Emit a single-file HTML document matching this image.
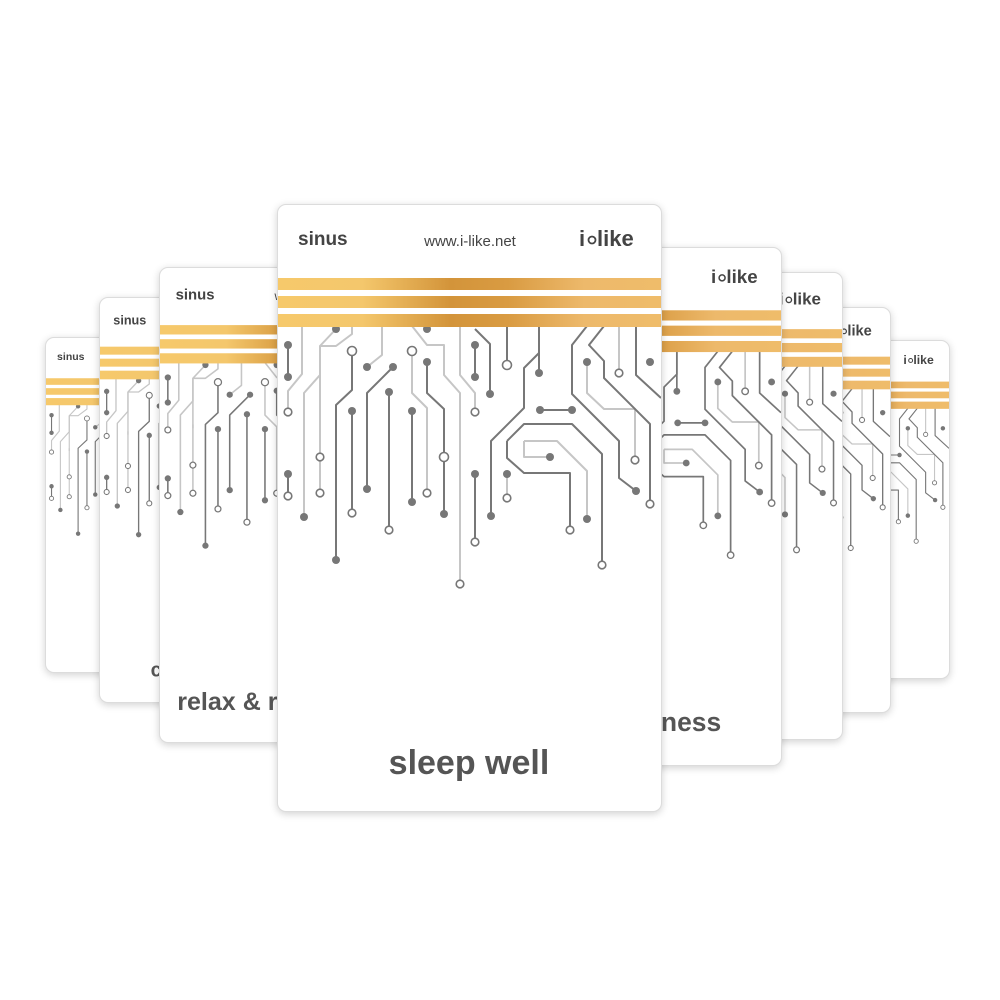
<!DOCTYPE html>
<html><head><meta charset="utf-8"><style>
html,body{margin:0;padding:0;background:#fff;width:1000px;height:1000px;overflow:hidden}
.card{position:absolute;background:#fff;border:1px solid #dcdcdc;border-radius:9px;box-shadow:0 2px 8px rgba(0,0,0,0.18);overflow:hidden}
.card svg{position:absolute;left:0;top:0;width:100%;height:100%}
</style></head><body>
<svg width="0" height="0" style="position:absolute">
<defs>
<linearGradient id="gold" x1="0" x2="1" y1="0" y2="0">
<stop offset="0" stop-color="#f6c96b"/><stop offset="0.22" stop-color="#f4c76c"/>
<stop offset="0.45" stop-color="#d3943a"/><stop offset="0.6" stop-color="#d99b42"/>
<stop offset="0.8" stop-color="#edb96b"/><stop offset="1" stop-color="#efbc6a"/>
</linearGradient>
<symbol id="design" viewBox="0 0 383 606">
<g fill="none" stroke-width="2" stroke-linejoin="round">
<g stroke="#c6c6c6">
<path d="M24 121V169L10 186V207"/>
<path d="M74 121V129L58 141H42V205"/>
<path d="M104 121V150L89 162"/>
<path d="M42 288V200"/>
<path d="M26 312V188L42 170V141"/>
<path d="M134 146V188L149 203V288"/>
<path d="M134 121L149 140H166V170L182 188V379"/>
<path d="M182 121V170L197 188V207"/>
<path d="M229 269V293"/>
<path d="M246 236H279L309 266V314"/>
<path d="M246 236V252H272"/>
<path d="M309 157V188L326 204H357V255"/>
<path d="M341 168V121"/>
<path d="M58 124L42 141"/>
</g>
<g stroke="#777">
<path d="M10 140V172"/>
<path d="M58 355V200L74 185V146"/>
<path d="M115 162L89 188V284"/>
<path d="M111 187V325"/>
<path d="M74 206V308"/>
<path d="M134 206V297"/>
<path d="M149 157V188L166 204V309"/>
<path d="M197 140V172"/>
<path d="M197 124L212 139V189"/>
<path d="M229 160V121"/>
<path d="M197 269V337"/>
<path d="M213 311V236L246 203V163L261 148V121"/>
<path d="M261 168V121"/>
<path d="M262 205H294"/>
<path d="M229 236L246 219H294L324 249V360"/>
<path d="M229 236V253L246 268H292V325"/>
<path d="M309 121L294 140V189L341 236V273L358 286"/>
<path d="M326 121L311 140L326 156V173L372 219V299"/>
<path d="M358 121V170L383 193"/>
<path d="M10 269V291"/>
</g>
</g>
<g fill="#777">
<circle cx="58" cy="124" r="4"/><circle cx="10" cy="140" r="4"/><circle cx="10" cy="172" r="4"/>
<circle cx="26" cy="312" r="4"/><circle cx="58" cy="355" r="4"/><circle cx="89" cy="162" r="4"/>
<circle cx="115" cy="162" r="4"/><circle cx="89" cy="284" r="4"/><circle cx="111" cy="187" r="4"/>
<circle cx="74" cy="206" r="4"/><circle cx="134" cy="206" r="4"/><circle cx="134" cy="297" r="4"/>
<circle cx="149" cy="124" r="4"/><circle cx="149" cy="157" r="4"/><circle cx="166" cy="309" r="4"/>
<circle cx="197" cy="140" r="4"/><circle cx="197" cy="172" r="4"/><circle cx="212" cy="189" r="4"/>
<circle cx="197" cy="269" r="4"/><circle cx="229" cy="269" r="4"/><circle cx="213" cy="311" r="4"/>
<circle cx="261" cy="168" r="4"/><circle cx="262" cy="205" r="4"/><circle cx="294" cy="205" r="4"/>
<circle cx="272" cy="252" r="4"/><circle cx="309" cy="314" r="4"/><circle cx="358" cy="286" r="4"/>
<circle cx="309" cy="157" r="4"/><circle cx="372" cy="157" r="4"/><circle cx="10" cy="269" r="4"/>
</g>
<g fill="#fff" stroke="#777" stroke-width="1.6">
<circle cx="10" cy="207" r="3.8"/><circle cx="42" cy="252" r="3.8"/><circle cx="74" cy="146" r="4.5"/>
<circle cx="42" cy="288" r="3.8"/><circle cx="111" cy="325" r="3.8"/><circle cx="74" cy="308" r="3.8"/>
<circle cx="134" cy="146" r="4.5"/><circle cx="149" cy="288" r="3.8"/><circle cx="166" cy="252" r="4.5"/>
<circle cx="182" cy="379" r="3.8"/><circle cx="197" cy="207" r="3.8"/><circle cx="229" cy="160" r="4.5"/>
<circle cx="197" cy="337" r="3.8"/><circle cx="229" cy="293" r="3.8"/><circle cx="324" cy="360" r="3.8"/>
<circle cx="292" cy="325" r="3.8"/><circle cx="357" cy="255" r="3.8"/><circle cx="341" cy="168" r="3.8"/>
<circle cx="372" cy="299" r="3.8"/><circle cx="10" cy="291" r="3.8"/>
</g>
<rect x="0" y="73" width="383" height="12" fill="url(#gold)"/>
<rect x="0" y="91" width="383" height="12" fill="url(#gold)"/>
<rect x="0" y="109" width="383" height="13" fill="url(#gold)"/>
<text x="20" y="40" font-family="Liberation Sans,sans-serif" font-weight="bold" font-size="19" fill="#444">sinus</text>
<text x="192" y="41" text-anchor="middle" font-family="Liberation Sans,sans-serif" font-size="15" fill="#444">www.i-like.net</text>
<text x="301" y="41" font-family="Liberation Sans,sans-serif" font-weight="bold" font-size="22" fill="#444">i</text>
<circle cx="314" cy="35" r="3.5" fill="none" stroke="#444" stroke-width="1.8"/>
<text x="319" y="41" font-family="Liberation Sans,sans-serif" font-weight="bold" font-size="22" fill="#444">like</text>
</symbol>
</defs>
</svg>

<div class="card" style="left:45px;top:337px;width:212px;height:334px;z-index:1">
<svg viewBox="0 0 383 606" preserveAspectRatio="none"><use href="#design"/></svg></div>
<div class="card" style="left:99px;top:297px;width:255px;height:404px;z-index:2">
<svg viewBox="0 0 383 606" preserveAspectRatio="none"><use href="#design"/>
<text x="76" y="568" font-family="Liberation Sans,sans-serif" font-weight="bold" font-size="30" fill="#555">calm down</text></svg></div>
<div class="card" style="left:159px;top:267px;width:300px;height:474px;z-index:3">
<svg viewBox="0 0 383 606" preserveAspectRatio="none"><use href="#design"/>
<text x="22" y="565" font-family="Liberation Sans,sans-serif" font-weight="bold" font-size="32" fill="#555">relax &amp; rest</text></svg></div>

<div class="card" style="left:634px;top:307px;width:255px;height:404px;z-index:1">
<svg viewBox="0 0 383 606" preserveAspectRatio="none"><use href="#design"/></svg></div>
<div class="card" style="left:735px;top:340px;width:213px;height:337px;z-index:0">
<svg viewBox="0 0 383 606" preserveAspectRatio="none"><use href="#design"/></svg></div>
<div class="card" style="left:546px;top:272px;width:295px;height:466px;z-index:2">
<svg viewBox="0 0 383 606" preserveAspectRatio="none"><use href="#design"/></svg></div>
<div class="card" style="left:453px;top:247px;width:327px;height:517px;z-index:3">
<svg viewBox="0 0 383 606" preserveAspectRatio="none"><use href="#design"/>
<text x="313" y="566" text-anchor="end" font-family="Liberation Sans,sans-serif" font-weight="bold" font-size="31" fill="#555">happiness</text></svg></div>

<div class="card" style="left:277px;top:204px;width:383px;height:606px;z-index:10">
<svg viewBox="0 0 383 606" preserveAspectRatio="none"><use href="#design"/>
<text x="191" y="569" text-anchor="middle" font-family="Liberation Sans,sans-serif" font-weight="bold" font-size="34" fill="#555">sleep well</text></svg></div>
</body></html>
